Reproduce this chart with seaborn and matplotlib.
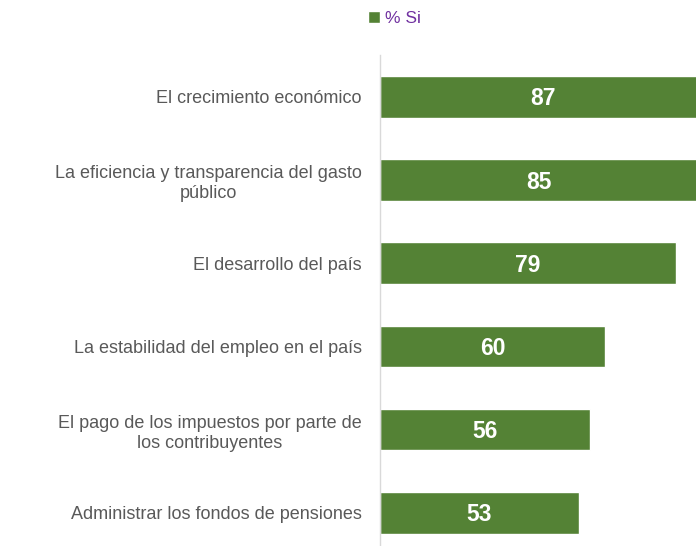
import pandas as pd
import seaborn as sns
import matplotlib.pyplot as plt

# Data
categories = [
    'El crecimiento económico',
    'La eficiencia y transparencia del gasto\npúblico',
    'El desarrollo del país',
    'La estabilidad del empleo en el país',
    'El pago de los impuestos por parte de\nlos contribuyentes',
    'Administrar los fondos de pensiones',
]
values = [87, 85, 79, 60, 56, 53]
series_name = '% Si'

df = pd.DataFrame({'Tema': categories, 'Valor': values})

sns.set_style('white')
plt.rcParams['font.family'] = ['Liberation Sans', 'DejaVu Sans']

fig = plt.figure(figsize=(6.96, 5.46), dpi=100)
ax = fig.add_axes([0.546, 0.0, 0.454, 0.899])

sns.barplot(data=df, y='Tema', x='Valor', orient='h', color='#548235',
            width=0.5, saturation=1, ax=ax, label=series_name)

# value labels in the middle of each bar
for i, v in enumerate(values):
    ax.text(v / 2, i + 0.025, str(v), ha='center', va='center', color='white',
            fontsize=16.5, fontweight='bold')

ax.set_xlim(0, 84.3)
ax.set_ylim(5.4, -0.5)
ax.set_xlabel('')
ax.set_ylabel('')
ax.set_xticks([])
for s in ['top', 'right', 'bottom']:
    ax.spines[s].set_visible(False)
ax.spines['left'].set_color('#d9d9d9')
ax.spines['left'].set_linewidth(1)

ax.tick_params(axis='y', length=0, pad=13, labelsize=13, labelcolor='#595959')
for lab in ax.get_yticklabels():
    lab.set_multialignment('center')
    lab.set_linespacing(1.25)

if ax.get_legend():
    ax.get_legend().remove()
handles, labels = ax.get_legend_handles_labels()
fig.legend(handles, labels, loc='center', bbox_to_anchor=(0.567, 0.966),
           frameon=False, handlelength=0.7, handleheight=0.7,
           handletextpad=0.3, fontsize=12.5, labelcolor='#7030A0')

fig.savefig('out.png', dpi=100)
